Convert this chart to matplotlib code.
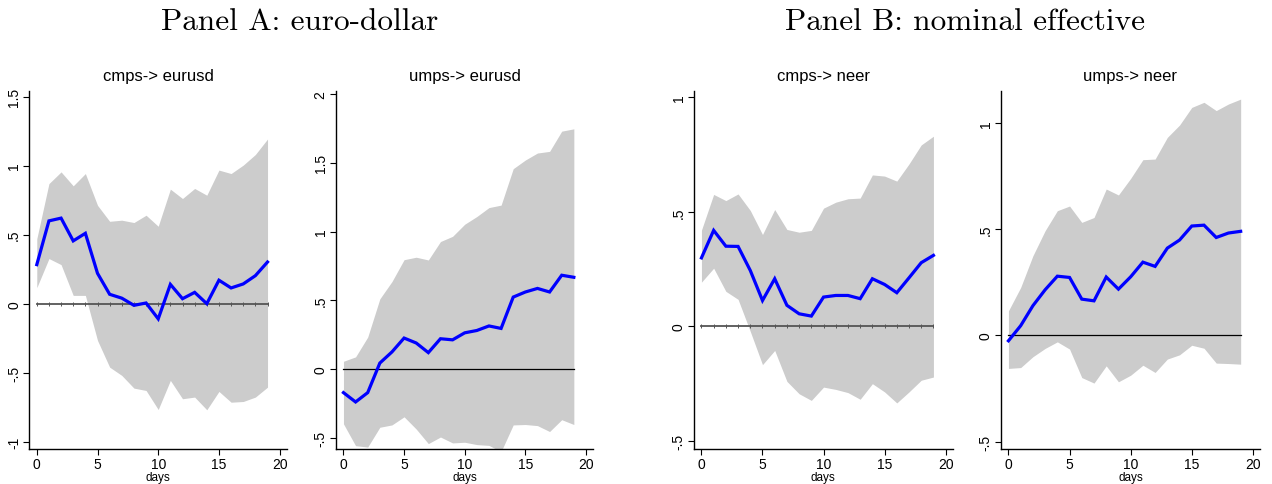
import matplotlib.pyplot as plt
import numpy as np

days = np.arange(20)

# panel A: euro-dollar
cmps_eurusd = [0.283, 0.60, 0.62, 0.455, 0.51, 0.22, 0.068, 0.04, -0.012, 0.005,
               -0.11, 0.14, 0.036, 0.082, 0.0, 0.17, 0.114, 0.143, 0.203, 0.302]
cmps_eurusd_hi = [0.47, 0.87, 0.955, 0.854, 0.943, 0.713, 0.597, 0.605, 0.588, 0.641,
                  0.561, 0.83, 0.762, 0.835, 0.786, 0.968, 0.943, 1.004, 1.081, 1.193]
cmps_eurusd_lo = [0.116, 0.327, 0.283, 0.06, 0.06, -0.266, -0.46, -0.52, -0.612, -0.629,
                  -0.767, -0.556, -0.689, -0.677, -0.769, -0.636, -0.714, -0.709, -0.677, -0.605]

umps_eurusd = [-0.172, -0.24, -0.172, 0.043, 0.124, 0.225, 0.189, 0.119, 0.22, 0.212,
               0.263, 0.28, 0.313, 0.295, 0.523, 0.56, 0.586, 0.56, 0.682, 0.667]
umps_eurusd_hi = [0.056, 0.088, 0.232, 0.51, 0.636, 0.795, 0.813, 0.793, 0.927, 0.965,
                  1.053, 1.109, 1.174, 1.192, 1.457, 1.52, 1.571, 1.583, 1.73, 1.747]
umps_eurusd_lo = [-0.399, -0.558, -0.568, -0.424, -0.407, -0.348, -0.437, -0.543, -0.495, -0.538,
                  -0.533, -0.55, -0.556, -0.601, -0.407, -0.404, -0.412, -0.455, -0.369, -0.404]

# panel B: nominal effective
cmps_neer = [0.299, 0.419, 0.35, 0.349, 0.244, 0.113, 0.208, 0.092, 0.055, 0.045,
             0.128, 0.135, 0.135, 0.121, 0.208, 0.183, 0.147, 0.212, 0.278, 0.31]
cmps_neer_hi = [0.42, 0.576, 0.549, 0.578, 0.506, 0.401, 0.51, 0.423, 0.411, 0.419,
                0.516, 0.542, 0.557, 0.56, 0.661, 0.656, 0.634, 0.709, 0.792, 0.83]
cmps_neer_lo = [0.193, 0.254, 0.153, 0.118, -0.022, -0.167, -0.105, -0.24, -0.294, -0.323,
                -0.265, -0.275, -0.289, -0.318, -0.25, -0.286, -0.334, -0.286, -0.235, -0.221]

umps_neer = [-0.025, 0.046, 0.14, 0.215, 0.279, 0.273, 0.171, 0.163, 0.275, 0.218,
             0.276, 0.345, 0.325, 0.411, 0.449, 0.515, 0.519, 0.461, 0.482, 0.49]
umps_neer_hi = [0.116, 0.226, 0.375, 0.493, 0.587, 0.609, 0.532, 0.555, 0.689, 0.661,
                0.739, 0.827, 0.83, 0.932, 0.99, 1.073, 1.097, 1.058, 1.089, 1.112]
umps_neer_lo = [-0.155, -0.151, -0.1, -0.061, -0.03, -0.064, -0.198, -0.224, -0.143, -0.218,
                -0.187, -0.14, -0.174, -0.111, -0.091, -0.046, -0.06, -0.13, -0.132, -0.135]

titles = ['cmps-> eurusd', 'umps-> eurusd', 'cmps-> neer', 'umps-> neer']
yticks = [[-1, -.5, 0, .5, 1, 1.5], [-.5, 0, .5, 1, 1.5, 2], [-.5, 0, .5, 1], [-.5, 0, .5, 1]]
ylims = [(-1.053, 1.544), (-0.582, 2.025), (-0.535, 1.029), (-0.534, 1.152)]
xticks = [0, 5, 10, 15, 20]

panels = [(cmps_eurusd, cmps_eurusd_lo, cmps_eurusd_hi),
          (umps_eurusd, umps_eurusd_lo, umps_eurusd_hi),
          (cmps_neer, cmps_neer_lo, cmps_neer_hi),
          (umps_neer, umps_neer_lo, umps_neer_hi)]

# axes boxes in figure fraction (left, bottom, width, height)
boxes = [(0.0231, 0.0722, 0.2023, 0.7389),
         (0.2642, 0.0722, 0.2020, 0.7389),
         (0.5456, 0.0722, 0.2034, 0.7389),
         (1001/1272, 0.0722, 0.2036, 0.7389)]


def fmt(v):
    s = ('%g' % v)
    s = s.replace('0.', '.')
    return s


fig = plt.figure(figsize=(12.72, 4.85), dpi=100)
sans = 'Liberation Sans'

for k in range(4):
    ax = fig.add_axes(boxes[k])
    y, lo, hi = panels[k]
    ax.fill_between(days, lo, hi, color='#cccccc', linewidth=0, zorder=1)
    if k in (0, 2):
        ax.plot(days, np.zeros(len(days)), color='#555555', lw=1.3, marker='|',
                markersize=2.5, markeredgewidth=0.7, zorder=2)
    else:
        ax.plot(days, np.zeros(len(days)), color='black', lw=0.9, zorder=2)
    ax.plot(days, y, color='#0000ff', lw=2.3, zorder=3, solid_joinstyle='miter')

    ax.set_xlim(-0.61, 20.58)
    ax.set_ylim(*ylims[k])
    ax.set_xticks(xticks)
    ax.set_yticks(yticks[k])
    ax.set_xticklabels([str(t) for t in xticks], fontsize=10, family=sans)
    ax.set_yticklabels([fmt(t) for t in yticks[k]], fontsize=10, family=sans,
                       rotation=90, va='center')
    ax.tick_params(direction='out', length=4, width=0.8, pad=2)
    for side in ('top', 'right'):
        ax.spines[side].set_visible(False)
    for side in ('left', 'bottom'):
        ax.spines[side].set_linewidth(1.0)
    ax.set_xlabel('days', fontsize=8.5, family=sans, labelpad=0)
    ax.set_title(titles[k], fontsize=12, family=sans, pad=8)

fig.text(299.5/1272, 0.955, 'Panel A: euro-dollar', fontsize=22.5, family='cmr10',
         ha='center', va='center')
fig.text(965/1272, 0.955, 'Panel B: nominal effective', fontsize=22.5, family='cmr10',
         ha='center', va='center')

fig.savefig('out.png', dpi=100)
